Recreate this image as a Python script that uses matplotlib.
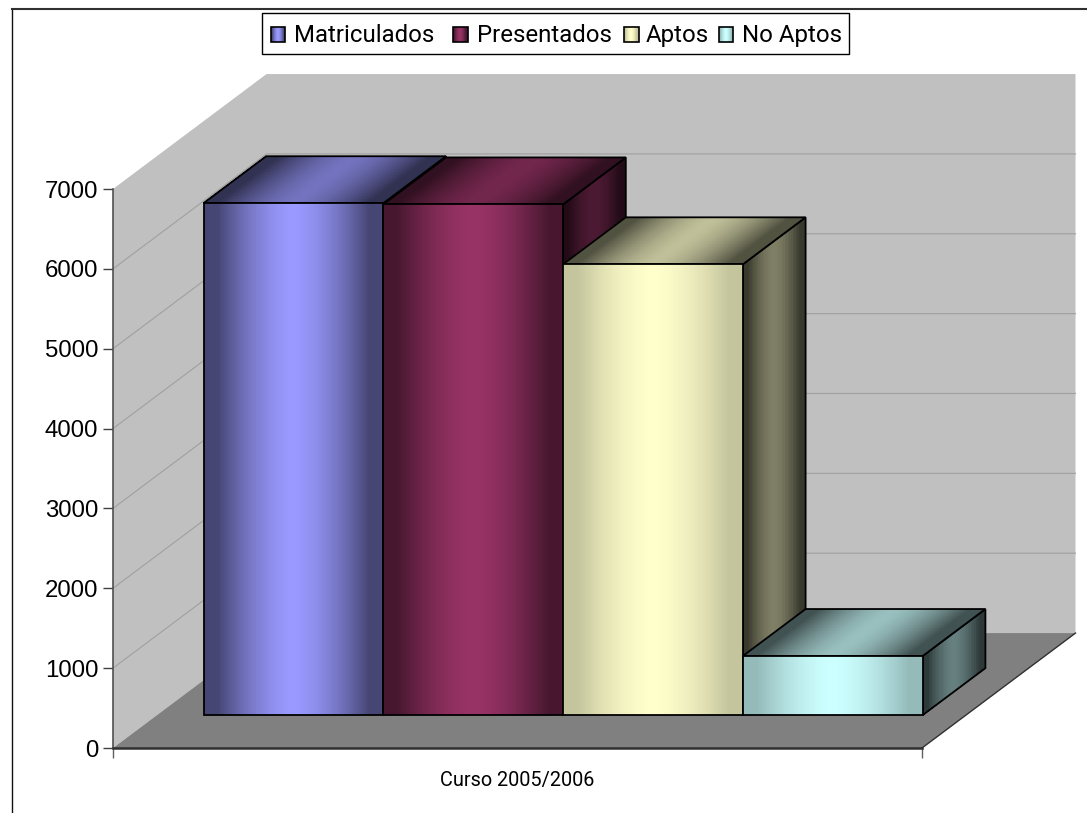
"""3D-looking bar chart: Matriculados / Presentados / Aptos / No Aptos."""
import matplotlib
matplotlib.use("Agg")
import matplotlib.pyplot as plt
import numpy as np
from matplotlib.collections import PolyCollection
from matplotlib.lines import Line2D
from matplotlib.patches import Polygon, Rectangle

series = ["Matriculados", "Presentados", "Aptos", "No Aptos"]
values = [6410, 6395, 5645, 740]
colors = ["#9999FF", "#993366", "#FFFFCC", "#CCFFFF"]
edge_shade = [0.46, 0.46, 0.77, 0.73]  # how dark the front face gets at its edges
category = "Curso 2005/2006"
yticks = [0, 1000, 2000, 3000, 4000, 5000, 6000, 7000]

W, H = 1087, 813
DIN_FONT = "Roboto"

# oblique projection, in data units of the front plane
DX = 153.5 / 809
DY = 115 / 79.9 * 1000
BAR_W = 179.8 / 809
MARGIN = 0.0575
NEAR, FAR = 0.287, 0.695


def shade(color, mult):
    rgb = np.array(matplotlib.colors.to_rgb(color))
    return np.clip(rgb[None, :] * np.asarray(mult)[:, None], 0, 1)


def gradient_face(ax, corners, color, lo, hi, zorder=5, lw=1.3, n=90):
    """corners: bottom-left, bottom-right, top-right, top-left. Gradient runs left to right."""
    bl, br, tr, tl = [np.array(c, dtype=float) for c in corners]
    u = np.linspace(0, 1, n + 1)
    mid = (u[:-1] + u[1:]) / 2
    # flat centre, dark edges
    t = np.clip(np.abs(mid - 0.5) / 0.42, 0, 1) ** 1.6
    mult = hi + (lo - hi) * t
    verts = []
    for a, b in zip(u[:-1], u[1:]):
        verts.append([bl + (br - bl) * a, bl + (br - bl) * b, tl + (tr - tl) * b, tl + (tr - tl) * a])
    strips = PolyCollection(verts, facecolors=shade(color, mult), edgecolors="none",
                            antialiaseds=False, zorder=zorder, clip_on=False)
    ax.add_collection(strips, autolim=False)
    ax.add_patch(Polygon([bl, br, tr, tl], closed=True, fill=False, edgecolor="black",
                         linewidth=lw, zorder=zorder, clip_on=False, joinstyle="miter"))


fig = plt.figure(figsize=(W / 100, H / 100), dpi=100)
ax = fig.add_axes([113 / W, (H - 748) / H, (922 - 113) / W, (748 - 189) / H])
ax.set_xlim(0, 1)
ax.set_ylim(0, 7000)
ax.patch.set_visible(False)

# walls and floor
wall = "#C0C0C0"
ax.add_patch(Polygon([(0, 0), (DX, DY), (1 + DX, DY), (1 + DX, 7000 + DY), (DX, 7000 + DY), (0, 7000)],
                     facecolor=wall, edgecolor="none", zorder=1, clip_on=False))
ax.add_patch(Polygon([(0, 0), (1, 0), (1 + DX, DY), (DX, DY)], facecolor="#808080", edgecolor="none",
                     zorder=2, clip_on=False))
ax.plot([1, 1 + DX], [0, DY], color="#303030", lw=1.0, zorder=3, clip_on=False)

for v in yticks[1:-1]:
    ax.plot([0, DX, 1 + DX], [v, v + DY, v + DY], color="#A0A0A0", lw=0.8, zorder=1.5, clip_on=False)

# bars, left to right so the next bar hides the previous side face
for i, (val, col, lo) in enumerate(zip(values, colors, edge_shade)):
    x0 = MARGIN + i * BAR_W + NEAR * DX
    x1 = x0 + BAR_W
    y0 = NEAR * DY
    y1 = y0 + val
    ox = (FAR - NEAR) * DX
    oy = (FAR - NEAR) * DY
    z = 5 + i
    gradient_face(ax, [(x1, y0), (x1 + ox, y0 + oy), (x1 + ox, y1 + oy), (x1, y1)], col, 0.22, 0.5, zorder=z, n=40)
    gradient_face(ax, [(x0, y1), (x1, y1), (x1 + ox, y1 + oy), (x0 + ox, y1 + oy)], col, 0.32, 0.75, zorder=z)
    gradient_face(ax, [(x0, y0), (x1, y0), (x1, y1), (x0, y1)], col, lo, 1.0, zorder=z)

# axes
for name in ("top", "right"):
    ax.spines[name].set_visible(False)
ax.spines["left"].set_color("#505050")
ax.spines["left"].set_linewidth(1.2)
ax.spines["bottom"].set_color("#303030")
ax.spines["bottom"].set_linewidth(1.8)
ax.spines["left"].set_zorder(4)
ax.spines["bottom"].set_zorder(4)

ax.set_yticks(yticks)
ax.set_yticklabels([str(v) for v in yticks], fontfamily="Liberation Sans", fontsize=17.3, color="black")
ax.tick_params(axis="y", length=7.2, width=1.0, color="#404040", pad=3.5)
ax.set_xticks([0, 1])
ax.set_xticklabels(["", ""])
ax.tick_params(axis="x", length=7.2, width=1.0, color="#606060")
ax.set_xticks([0.5], minor=True)
ax.set_xticklabels([category], minor=True, fontfamily=DIN_FONT, fontsize=14.3, color="black")
ax.tick_params(axis="x", which="minor", length=0, pad=16.5)

# chart border, runs off the right and bottom of the image
fig.add_artist(Line2D([11.5 / W, 11.5 / W], [0, (H - 9) / H], color="#101010", lw=1.0))
fig.add_artist(Line2D([11.5 / W, 1], [(H - 9) / H, (H - 9) / H], color="#303030", lw=1.5))

# legend, laid out by hand on an overlay in pixel units so the gaps follow the original
lax = fig.add_axes([0, 0, 1, 1])
lax.set_xlim(0, W)
lax.set_ylim(H, 0)
lax.axis("off")
lax.add_patch(Rectangle((261.5, 13.5), 587.5, 40.5, facecolor="white", edgecolor="black", linewidth=1.0, zorder=1))
swatch_x = [270.5, 453, 624, 718.5]
text_x = [294, 477, 646, 742]
for name, col, lo, sx, tx in zip(series, colors, edge_shade, swatch_x, text_x):
    gradient_face(lax, [(sx, 42), (sx + 14.5, 42), (sx + 14.5, 27.5), (sx, 27.5)], col, lo, 1.0, zorder=2, lw=1.2, n=14)
    lax.text(tx, 42.1, name, family=DIN_FONT, fontsize=17.3, va="baseline", ha="left", color="black")

fig.savefig("out.png", dpi=100)
